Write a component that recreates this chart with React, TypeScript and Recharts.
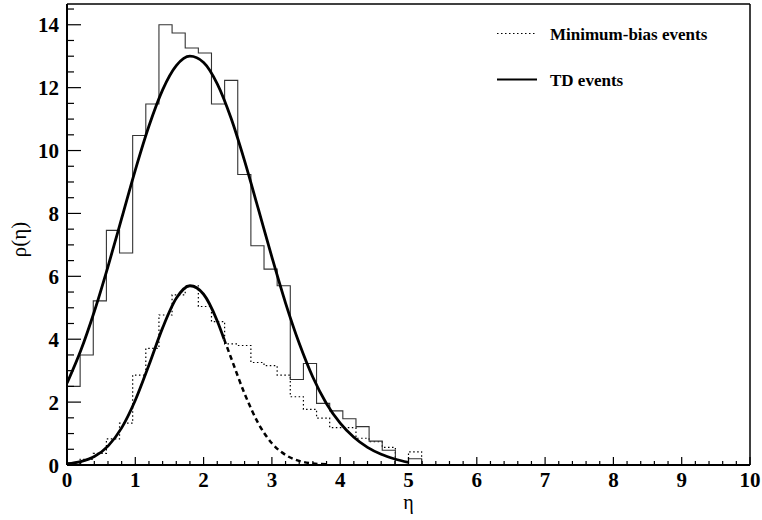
import React from 'react';
import { ComposedChart, Line, XAxis, YAxis, ReferenceLine, Legend, Label } from 'recharts';

// Histogram bin edges (eta)
const binEdges = [0, 0.1923, 0.3846, 0.5769, 0.7692, 0.9615, 1.1538, 1.3462, 1.5385, 1.7308, 1.9231, 2.1154, 2.3077, 2.5, 2.6923, 2.8846, 3.0769, 3.2692, 3.4615, 3.6538, 3.8462, 4.0385, 4.2308, 4.4231, 4.6154, 4.8077, 5.0, 5.1923];
// TD events histogram (solid)
const tdCounts = [2.5, 3.5, 5.22, 7.46, 6.74, 10.48, 11.48, 14.0, 13.74, 13.26, 13.1, 11.48, 12.23, 9.24, 6.97, 6.23, 5.7, 2.72, 3.23, 1.96, 1.72, 1.47, 1.22, 0.76, 0.47, 0, 0.2];
// Minimum-bias events histogram (dotted)
const mbCounts = [0.06, 0.18, 0.37, 0.83, 1.33, 2.86, 3.71, 4.77, 5.41, 5.7, 5.04, 4.56, 3.85, 3.8, 3.26, 3.16, 2.86, 2.17, 1.77, 1.49, 1.19, 1.19, 0.85, 0.74, 0.56, 0, 0.42];

// Fitted curves
const tdFitX = [0, 0.2, 0.4, 0.6, 0.8, 1.0, 1.2, 1.4, 1.6, 1.8, 2.0, 2.2, 2.4, 2.6, 2.8, 3.0, 3.2, 3.4, 3.6, 3.8, 4.0, 4.2, 4.4, 4.6, 4.8, 5.0];
const tdFitY = [2.6, 3.63, 4.88, 6.31, 7.84, 9.38, 10.78, 11.93, 12.7, 13.0, 12.8, 12.12, 11.04, 9.67, 8.15, 6.61, 5.15, 3.87, 2.79, 1.95, 1.33, 0.88, 0.56, 0.34, 0.19, 0.08];
const mbFitSolidX = [0, 0.2, 0.4, 0.6, 0.8, 1.0, 1.2, 1.4, 1.6, 1.8, 2.0, 2.2, 2.3];
const mbFitSolidY = [0.04, 0.11, 0.27, 0.6, 1.18, 2.06, 3.18, 4.36, 5.3, 5.7, 5.43, 4.58, 4.0];
const mbFitDashX = [2.3, 2.4, 2.6, 2.8, 3.0, 3.2, 3.4, 3.6, 3.8];
const mbFitDashY = [4.0, 3.42, 2.27, 1.33, 0.69, 0.32, 0.13, 0.05, 0.02];

// Axis ticks
const xTicks = [0, 0.2, 0.4, 0.6, 0.8, 1, 1.2, 1.4, 1.6, 1.8, 2, 2.2, 2.4, 2.6, 2.8, 3, 3.2, 3.4, 3.6, 3.8, 4, 4.2, 4.4, 4.6, 4.8, 5, 5.2, 5.4, 5.6, 5.8, 6, 6.2, 6.4, 6.6, 6.8, 7, 7.2, 7.4, 7.6, 7.8, 8, 8.2, 8.4, 8.6, 8.8, 9, 9.2, 9.4, 9.6, 9.8, 10];
const xMajor = [0, 1, 2, 3, 4, 5, 6, 7, 8, 9, 10];
const yTicks = [0, 0.5, 1, 1.5, 2, 2.5, 3, 3.5, 4, 4.5, 5, 5.5, 6, 6.5, 7, 7.5, 8, 8.5, 9, 9.5, 10, 10.5, 11, 11.5, 12, 12.5, 13, 13.5, 14, 14.5];
const yMajor = [0, 2, 4, 6, 8, 10, 12, 14];
const yMax = 14.66;

const FONT = '"Liberation Serif", "Times New Roman", serif';

const hist = (edges: number[], counts: number[]) => {
  const pts = counts.map((c, i) => ({ x: edges[i], y: c }));
  pts.push({ x: edges[counts.length], y: 0 });
  return pts;
};
const pairs = (xs: number[], ys: number[]) => xs.map((x, i) => ({ x, y: ys[i] }));

const tdHist = hist(binEdges, tdCounts);
const mbHist = hist(binEdges, mbCounts);
const tdFit = pairs(tdFitX, tdFitY);
const mbFitSolid = pairs(mbFitSolidX, mbFitSolidY);
const mbFitDash = pairs(mbFitDashX, mbFitDashY);

const isIn = (arr: number[], v: number) => arr.some((a) => Math.abs(a - v) < 1e-6);

const XTick = (props: any) => {
  const { x, y, payload } = props;
  const v = payload.value;
  const major = isIn(xMajor, v);
  return (
    <g>
      <line x1={x} x2={x} y1={y} y2={y - (major ? 8 : 4)} stroke="#000" strokeWidth={1.2} />
      {major && (
        <text x={x} y={y + 22} textAnchor="middle" fontFamily={FONT} fontWeight="bold" fontSize={21} fill="#000">
          {v}
        </text>
      )}
    </g>
  );
};

const YTick = (props: any) => {
  const { x, y, payload } = props;
  const v = payload.value;
  const major = isIn(yMajor, v);
  return (
    <g>
      <line x1={x} x2={x + (major ? 14 : 7)} y1={y} y2={y} stroke="#000" strokeWidth={1.2} />
      {major && (
        <text x={x - 8} y={y + 7.5} textAnchor="end" fontFamily={FONT} fontWeight="bold" fontSize={21} fill="#000">
          {v}
        </text>
      )}
    </g>
  );
};

const LegendBox = () => (
  <svg width={280} height={100} style={{ display: 'block' }}>
    <line x1={17} x2={57} y1={33.5} y2={33.5} stroke="#000" strokeWidth={1.2} strokeDasharray="1.5 2.5" />
    <text x={70} y={39.5} fontFamily={FONT} fontWeight="bold" fontSize={17} fill="#000">
      Minimum-bias events
    </text>
    <line x1={17} x2={57} y1={79.5} y2={79.5} stroke="#000" strokeWidth={2} />
    <text x={70} y={85.5} fontFamily={FONT} fontWeight="bold" fontSize={17} fill="#000">
      TD events
    </text>
  </svg>
);

export default function App() {
  return (
    <div style={{ position: 'absolute', left: 0, top: 0, width: 762, height: 520, background: '#fff' }}>
      <ComposedChart width={762} height={520} margin={{ top: 4, right: 12, bottom: 25, left: 7 }}>
        <XAxis
          dataKey="x"
          type="number"
          domain={[0, 10]}
          allowDataOverflow
          ticks={xTicks}
          interval={0}
          tickSize={0}
          tickMargin={0}
          tickLine={false}
          tick={XTick}
          axisLine={{ stroke: '#000', strokeWidth: 2 }}
          height={30}
        >
          <Label
            content={(p: any) => {
              const vb = p.viewBox;
              return (
                <text x={vb.x + vb.width / 2} y={vb.y + 44} textAnchor="middle" fontFamily={FONT} fontSize={20} fill="#000">
                  η
                </text>
              );
            }}
          />
        </XAxis>
        <YAxis
          type="number"
          domain={[0, yMax]}
          allowDataOverflow
          ticks={yTicks}
          interval={0}
          tickSize={0}
          tickMargin={0}
          tickLine={false}
          tick={YTick}
          axisLine={{ stroke: '#000', strokeWidth: 2 }}
          width={60}
        >
          <Label
            content={(p: any) => {
              const vb = p.viewBox;
              const cx = 26;
              const cy = vb.y + vb.height / 2 + 5;
              return (
                <text x={cx} y={cy} transform={`rotate(-90, ${cx}, ${cy})`} textAnchor="middle" fontFamily={FONT} fontSize={21} fill="#000">
                  ρ(η)
                </text>
              );
            }}
          />
        </YAxis>
        <ReferenceLine y={yMax} stroke="#000" strokeWidth={1.5} />
        <ReferenceLine x={10} stroke="#000" strokeWidth={1.5} />
        <Line data={mbHist} dataKey="y" type="stepAfter" stroke="#000" strokeWidth={1.2} strokeDasharray="1.5 2.5" dot={false} activeDot={false} isAnimationActive={false} legendType="none" />
        <Line data={tdHist} dataKey="y" type="stepAfter" stroke="#333" strokeWidth={1.1} dot={false} activeDot={false} isAnimationActive={false} legendType="none" />
        <Line data={tdFit} dataKey="y" type="monotone" stroke="#000" strokeWidth={2.8} dot={false} activeDot={false} isAnimationActive={false} legendType="none" />
        <Line data={mbFitSolid} dataKey="y" type="monotone" stroke="#000" strokeWidth={2.8} dot={false} activeDot={false} isAnimationActive={false} legendType="none" />
        <Line data={mbFitDash} dataKey="y" type="monotone" stroke="#000" strokeWidth={2.5} strokeDasharray="5 3.5" dot={false} activeDot={false} isAnimationActive={false} legendType="none" />
        <Legend
          layout="horizontal"
          verticalAlign="middle"
          align="center"
          wrapperStyle={{ position: 'absolute', left: 480, top: 0, width: 280, height: 100 }}
          content={() => <LegendBox />}
        />
      </ComposedChart>
    </div>
  );
}
